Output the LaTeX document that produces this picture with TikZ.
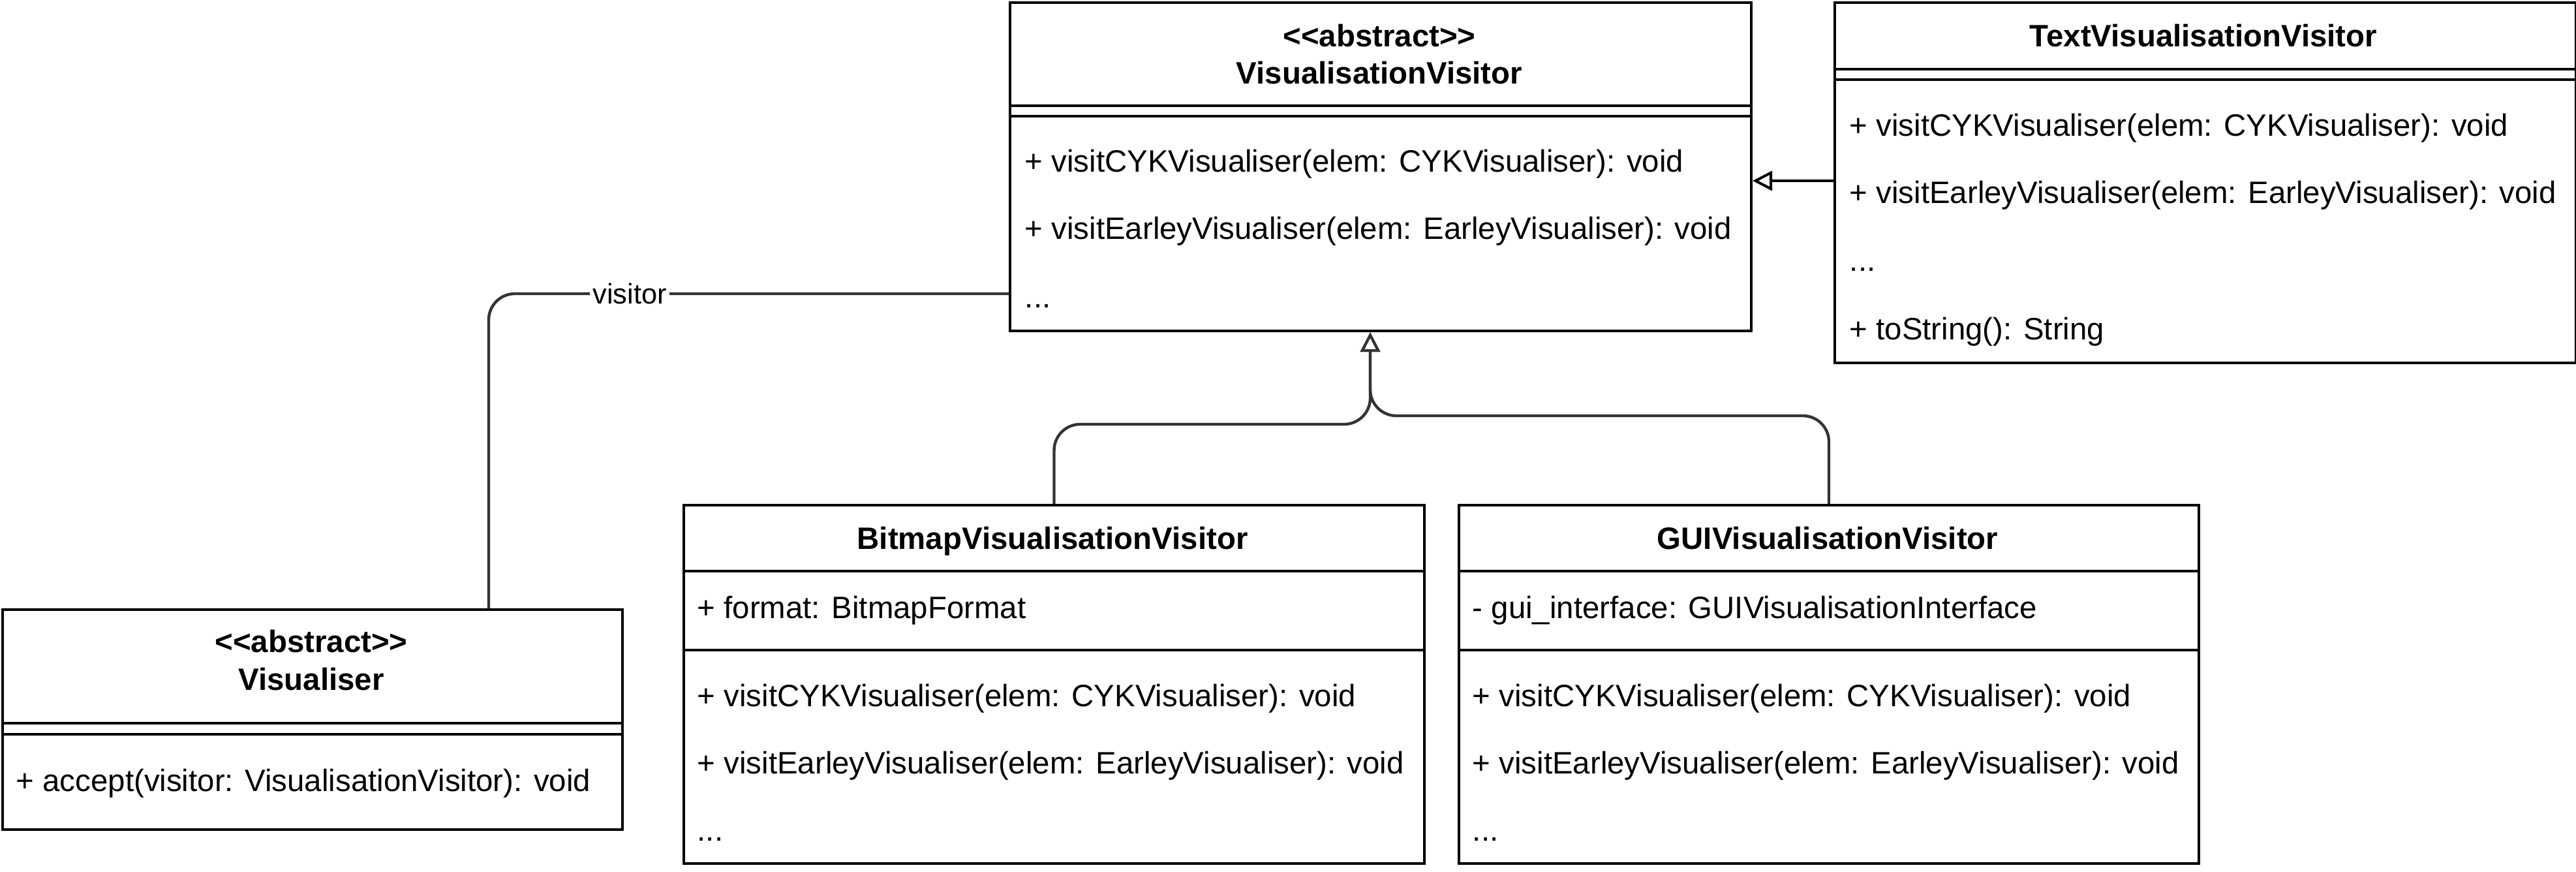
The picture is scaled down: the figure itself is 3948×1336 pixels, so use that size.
\documentclass[tikz,border=0pt]{standalone}
\usepackage{fontspec}
\setmainfont{Liberation Sans}[Ligatures=TeXOff]
\usetikzlibrary{arrows.meta,calc}
\definecolor{connc}{HTML}{333333}
\newcommand\umlfs{\fontsize{11.85}{14}\selectfont}
\newcommand\lblfs{\fontsize{10.85}{13}\selectfont}
\tikzset{
  x=0.25pt, y=-0.25pt,
  umlbox/.style={draw, line width=1pt, inner sep=0pt, anchor=north west, rectangle},
  divline/.style={line width=1pt},
  txt/.style={anchor=base west, inner sep=0pt, font=\umlfs},
  ttl/.style={anchor=base, inner sep=0pt, font=\umlfs\bfseries},
  gen/.style={draw=connc, line width=1.1pt, rounded corners=10pt,
    -{Triangle[open, length=7.5pt, width=7.5pt, line width=1pt]}},
  genk/.style={draw=black, line width=1pt,
    -{Triangle[open, length=7.5pt, width=7.5pt, line width=1pt]}},
  assoc/.style={draw=connc, line width=1.1pt, rounded corners=10pt},
  lbl/.style={fill=white, inner sep=1pt, font=\lblfs},
}
\begin{document}
\begin{tikzpicture}
\useasboundingbox (0,0) rectangle (3948,1336);

% ---------- boxes ----------
\node[umlbox, minimum width=284pt, minimum height=125.75pt] (vv) at (1546,2) {};
\node[umlbox, minimum width=283.9pt, minimum height=138pt] (tvv) at (2810,2) {};
\node[umlbox, minimum width=237.5pt, minimum height=84.25pt] (vis) at (2,932) {};
\node[umlbox, minimum width=283.75pt, minimum height=137.25pt] (bmp) at (1046,772) {};
\node[umlbox, minimum width=283.5pt, minimum height=137.25pt] (gui) at (2234,772) {};

% ---------- dividers ----------
\draw[divline] ($(vv.north west)+(0,160)$) -- ($(vv.north east)+(0,160)$);
\draw[divline] ($(vv.north west)+(0,176)$) -- ($(vv.north east)+(0,176)$);
\draw[divline] ($(tvv.north west)+(0,104)$) -- ($(tvv.north east)+(0,104)$);
\draw[divline] ($(tvv.north west)+(0,120)$) -- ($(tvv.north east)+(0,120)$);
\draw[divline] ($(vis.north west)+(0,176)$) -- ($(vis.north east)+(0,176)$);
\draw[divline] ($(vis.north west)+(0,193)$) -- ($(vis.north east)+(0,193)$);
\draw[divline] ($(bmp.north west)+(0,103)$) -- ($(bmp.north east)+(0,103)$);
\draw[divline] ($(bmp.north west)+(0,224)$) -- ($(bmp.north east)+(0,224)$);
\draw[divline] ($(gui.north west)+(0,103)$) -- ($(gui.north east)+(0,103)$);
\draw[divline] ($(gui.north west)+(0,224)$) -- ($(gui.north east)+(0,224)$);

% ---------- VisualisationVisitor ----------
\node[ttl] (vvt1) at (2114,72) {<<abstract>>};
\node[ttl] (vvt2) at (2114,129) {VisualisationVisitor};
\node[txt] (vv1) at (1570,264) {+ visitCYKVisualiser(elem: CYKVisualiser): void};
\node[txt] (vv2) at (1570,367) {+ visitEarleyVisualiser(elem: EarleyVisualiser): void};
\node[txt] (vv3) at (1570,471) {...};

% ---------- TextVisualisationVisitor ----------
\node[ttl] (tvvt) at (3377,72) {TextVisualisationVisitor};
\node[txt] (tvv1) at (2834,209) {+ visitCYKVisualiser(elem: CYKVisualiser): void};
\node[txt] (tvv2) at (2834,312) {+ visitEarleyVisualiser(elem: EarleyVisualiser): void};
\node[txt] (tvv3) at (2834,416) {...};
\node[txt] (tvv4) at (2834,520) {+ toString(): String};

% ---------- Visualiser ----------
\node[ttl] (vist1) at (477,999) {<<abstract>>};
\node[ttl] (vist2) at (477,1057) {Visualiser};
\node[txt] (vis1) at (24,1212) {+ accept(visitor: VisualisationVisitor): void};

% ---------- BitmapVisualisationVisitor ----------
\node[ttl] (bmpt) at (1613,841) {BitmapVisualisationVisitor};
\node[txt] (bmp0) at (1068,947) {+ format: BitmapFormat};
\node[txt] (bmp1) at (1068,1082) {+ visitCYKVisualiser(elem: CYKVisualiser): void};
\node[txt] (bmp2) at (1068,1185) {+ visitEarleyVisualiser(elem: EarleyVisualiser): void};
\node[txt] (bmp3) at (1068,1288) {...};

% ---------- GUIVisualisationVisitor ----------
\node[ttl] (guit) at (2801,841) {GUIVisualisationVisitor};
\node[txt] (gui0) at (2256,947) {- gui\_interface: GUIVisualisationInterface};
\node[txt] (gui1) at (2256,1082) {+ visitCYKVisualiser(elem: CYKVisualiser): void};
\node[txt] (gui2) at (2256,1185) {+ visitEarleyVisualiser(elem: EarleyVisualiser): void};
\node[txt] (gui3) at (2256,1288) {...};

% ---------- connectors ----------
\coordinate (vvbot) at ($(vv.south west)+(554,0)$);
\draw[gen] (bmp.north) -- ++(0,-122) -| (vvbot);
\draw[gen] (gui.north) -- ++(0,-135) -| (vvbot);

\coordinate (tvvl) at ($(tvv.north west)+(0,275)$);
\draw[genk] (tvvl) -- (tvvl -| vv.east);

\coordinate (vvl) at ($(vv.north west)+(0,448)$);
\coordinate (visin) at ($(vis.north west)+(747,0)$);
\draw[assoc] (vvl) -| (visin);
\node[lbl] (vlab) at (965,450) {visitor};
\end{tikzpicture}
\end{document}
